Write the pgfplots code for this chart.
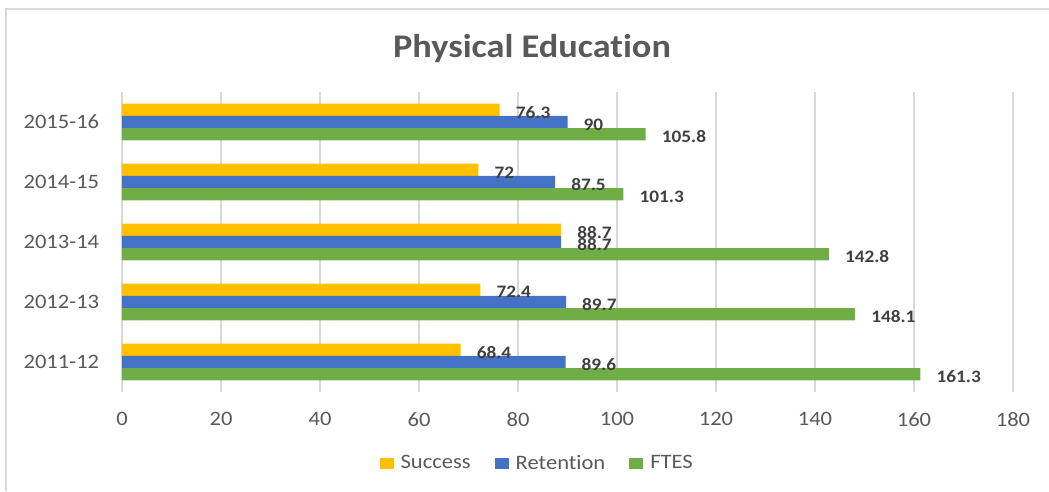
\documentclass[border=0pt]{standalone}
\usepackage{fontspec}
\setmainfont[FakeStretch=1.1, Ligatures={NoCommon}]{Carlito}
\usepackage{pgfplots}
\pgfplotsset{compat=1.18}

\definecolor{cSucc}{HTML}{FFC000}
\definecolor{cRet}{HTML}{4472C4}
\definecolor{cFtes}{HTML}{70AD47}
\definecolor{gridgray}{HTML}{D9D9D9}
\definecolor{txtgray}{HTML}{595959}
\definecolor{lblgray}{HTML}{404040}

\begin{document}
\begin{tikzpicture}
\useasboundingbox (0,0) rectangle (1049pt,491pt);
% chart frame (only left and top edges are visible in the reference)
\draw[line width=2pt, color=gridgray] (6pt,0pt) -- (6pt,482pt) -- (1049pt,482pt);
\node[font=\bfseries\fontsize{33}{40}\selectfont, text=txtgray, anchor=base, inner sep=0pt]
  at (532pt,433.7pt) {Physical Educat\kern0pt ion};

\begin{axis}[
  at={(122pt,99pt)}, anchor=south west,
  scale only axis, width=891pt, height=300pt,
  xbar, bar width=12.2pt,
  xmin=0, xmax=180, xtick={0,20,...,180},
  ymin=-0.5, ymax=4.5, ytick={0,1,2,3,4},
  yticklabels={2011-12,2012-13,2013-14,2014-15,2015-16},
  axis line style={draw=none},
  major tick length=0pt,
  xmajorgrids, grid style={line width=2pt, color=gridgray},
  /pgf/number format/assume math mode=true,
  ticklabel style={font=\fontsize{20.5}{24}\selectfont, text=txtgray, inner sep=0pt},
  xticklabel style={yshift=-20pt},
  yticklabel style={xshift=-22.7pt},
  point meta=x,
  nodes near coords,
  every node near coord/.append style={font=\bfseries\fontsize{17.5}{21}\selectfont,
    text=lblgray, anchor=west, inner sep=0pt, xshift=16pt, yshift=-2.5pt},
  legend style={at={(axis description cs:0.466,0)}, anchor=center, yshift=-71pt,
    draw=none, fill=none, font=\fontsize{20.5}{24}\selectfont, text=txtgray,
    legend columns=3,
    /tikz/every odd column/.style={column sep=5pt},
    /tikz/every even column/.style={column sep=22pt}},
  legend image code/.code={\fill[#1,draw=none] (0pt,-5.5pt) rectangle (14pt,5.5pt);},
]
\addplot[fill=cSucc, draw=none, /pgfplots/bar shift=12.2pt] coordinates
  {(68.4,0) (72.4,1) (88.7,2) (72,3) (76.3,4)};
\addplot[fill=cRet, draw=none, /pgfplots/bar shift=0pt] coordinates
  {(89.6,0) (89.7,1) (88.7,2) (87.5,3) (90,4)};
\addplot[fill=cFtes, draw=none, /pgfplots/bar shift=-12.2pt] coordinates
  {(161.3,0) (148.1,1) (142.8,2) (101.3,3) (105.8,4)};
\legend{Success,Retent\kern0pt ion,FTES}
\end{axis}
\end{tikzpicture}
\end{document}
